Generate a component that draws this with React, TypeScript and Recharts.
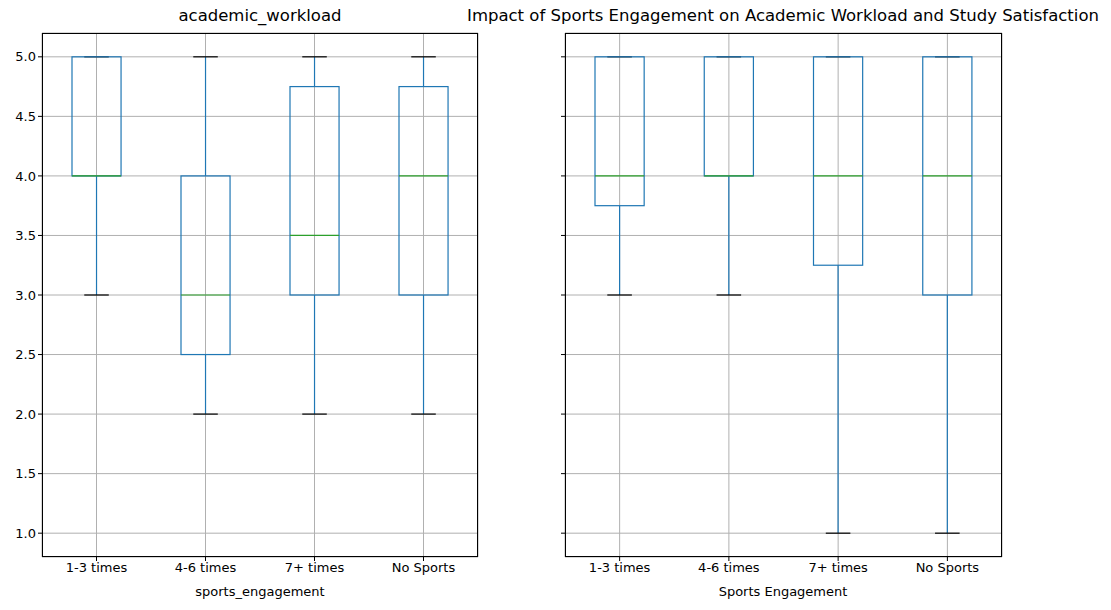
import React from 'react';
import { ComposedChart, Bar, XAxis, YAxis, CartesianGrid } from 'recharts';

const categories = ['1-3 times', '4-6 times', '7+ times', 'No Sports'];
const leftLow = [3, 2, 2, 2];
const leftQ1 = [4, 2.5, 3, 3];
const leftMed = [4, 3, 3.5, 4];
const leftQ3 = [5, 4, 4.75, 4.75];
const leftHigh = [5, 5, 5, 5];
const rightLow = [3, 3, 1, 1];
const rightQ1 = [3.75, 4, 3.25, 3];
const rightMed = [4, 4, 4, 4];
const rightQ3 = [5, 5, 5, 5];
const rightHigh = [5, 5, 5, 5];
const yTicks = [1.0, 1.5, 2.0, 2.5, 3.0, 3.5, 4.0, 4.5, 5.0];

const build = (lo: number[], q1: number[], med: number[], q3: number[], hi: number[]) =>
  categories.map((c, i) => ({ name: c, range: [lo[i], hi[i]], lo: lo[i], q1: q1[i], med: med[i], q3: q3[i], hi: hi[i] }));

const BoxShape = (props: any) => {
  const { x, y, width, height, payload } = props;
  const { lo, q1, med, q3, hi } = payload;
  const ppu = height / (hi - lo);
  const py = (v: number) => y + (hi - v) * ppu;
  const cx = x + width / 2;
  const cap = width / 4;
  return (
    <g>
      <line x1={cx} x2={cx} y1={py(hi)} y2={py(q3)} stroke="#1f77b4" strokeWidth={1.2} />
      <line x1={cx} x2={cx} y1={py(q1)} y2={py(lo)} stroke="#1f77b4" strokeWidth={1.2} />
      <line x1={cx - cap} x2={cx + cap} y1={py(hi)} y2={py(hi)} stroke="#000" strokeWidth={1.2} />
      <line x1={cx - cap} x2={cx + cap} y1={py(lo)} y2={py(lo)} stroke="#000" strokeWidth={1.2} />
      <rect x={x} y={py(q3)} width={width} height={Math.max(py(q1) - py(q3), 0.01)} fill="none" stroke="#1f77b4" strokeWidth={1.2} />
      <line x1={x} x2={x + width} y1={py(med)} y2={py(med)} stroke="#2ca02c" strokeWidth={1.2} />
    </g>
  );
};

const font = '"DejaVu Sans", sans-serif';

const Panel = ({ data, left, plotW, showLabels }: any) => {
  const yw = 42;
  const w = yw + plotW + 10;
  return (
    <div style={{ position: 'absolute', left: left - yw, top: 0 }}>
      <ComposedChart width={w} height={610} data={data} margin={{ top: 33, right: 10, bottom: 23, left: 0 }}>
        <CartesianGrid stroke="#b0b0b0" strokeDasharray="" />
        <XAxis dataKey="name" height={30} axisLine={false} tickLine={{ stroke: '#000' }} tickSize={4}
          tick={{ fill: '#000', fontSize: 13, fontFamily: font }} />
        <YAxis width={yw} domain={[0.8, 5.2]} ticks={yTicks} axisLine={false} tickLine={{ stroke: '#000' }} tickSize={4}
          tickFormatter={(v: number) => (showLabels ? v.toFixed(1) : '')}
          tick={{ fill: '#000', fontSize: 13, fontFamily: font }} />
        <Bar dataKey="range" barSize={plotW / 4 * 0.45} shape={BoxShape} isAnimationActive={false} />
      </ComposedChart>
      <div style={{ position: 'absolute', left: yw, top: 33, width: plotW, height: 524, border: '1px solid #000', boxSizing: 'border-box', pointerEvents: 'none' }} />
    </div>
  );
};

export default function App() {
  const left = build(leftLow, leftQ1, leftMed, leftQ3, leftHigh);
  const right = build(rightLow, rightQ1, rightMed, rightQ3, rightHigh);
  const txt = (s: string, cx: number, top: number, size: number) => (
    <div style={{ position: 'absolute', left: cx - 400, width: 800, top, textAlign: 'center', fontSize: size, fontFamily: font, whiteSpace: 'nowrap' }}>{s}</div>
  );
  return (
    <div style={{ position: 'absolute', left: 0, top: 0, width: 1111, height: 610, background: '#fff', overflow: 'hidden' }}>
      <Panel data={left} left={42} plotW={436} showLabels={true} />
      <Panel data={right} left={565} plotW={437} showLabels={false} />
      {txt('academic_workload', 260, 6, 16.5)}
      {txt('Impact of Sports Engagement on Academic Workload and Study Satisfaction', 783, 6, 16.5)}
      {txt('sports_engagement', 260, 584, 13)}
      {txt('Sports Engagement', 783, 584, 13)}
    </div>
  );
}
